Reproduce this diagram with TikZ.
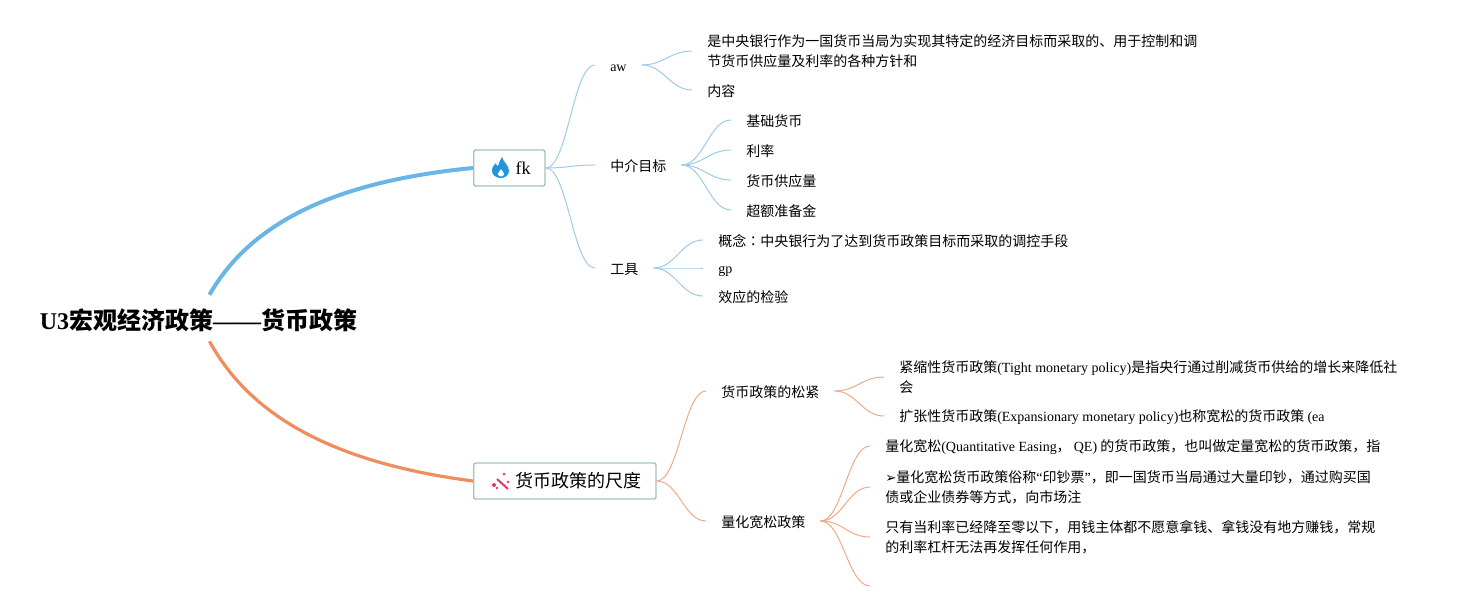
\documentclass[tikz,border=0pt]{standalone}
\usepackage{fontspec}
\setmainfont{Liberation Serif}
\newfontfamily\cjk{Noto Sans CJK SC}
\newfontfamily\cjktc{Noto Sans CJK TC}
\newfontfamily\dingfont{DejaVu Sans}
\newcommand{\lat}[1]{{\rmfamily #1}}
\definecolor{mapblue}{HTML}{68b5e6}
\definecolor{mapblueln}{HTML}{9ccbea}
\definecolor{maporange}{HTML}{f08d5f}
\definecolor{maporangeln}{HTML}{f2a988}
\definecolor{boxline}{HTML}{a3c4bc}
\definecolor{flameblue}{HTML}{2196d8}
\definecolor{wandpink}{HTML}{e8356f}
\tikzstyle{topic} = [draw=boxline, line width=1.1pt, fill=white, rounded corners=1.5pt,
    inner xsep=10.7pt, inner ysep=0pt, minimum height=27pt, anchor=west,
    font=\fontsize{13.5pt}{18pt}\selectfont\cjk]
\tikzstyle{para} = [anchor=west, align=left, inner xsep=11.25pt, inner ysep=0pt,
    font=\fontsize{10.5pt}{15pt}\selectfont\cjk]
\tikzstyle{leaf} = [para, execute at begin node={\rule[-1.5pt]{0pt}{12pt}}]
\tikzstyle{blueln} = [mapblueln, line width=0.75pt]
\tikzstyle{orangeln} = [maporangeln, line width=0.75pt]
\tikzset{fan/.style={to path={.. controls ([xshift=16.5pt]\tikztostart) and ([xshift=-16.5pt]\tikztotarget) .. (\tikztotarget)}}}
\begin{document}
\begin{tikzpicture}[x=0.75pt,y=-0.75pt]

	\useasboundingbox (0,0) rectangle (1459,611);

	% centre
	\node [inner xsep=0pt, inner ysep=0pt, minimum height=34.5pt,
		font=\fontsize{18pt}{22pt}\selectfont\bfseries\cjk,
		execute at begin node={\rule[-2pt]{0pt}{21pt}}] (root) at (198.5,318)
		{\lat{U3}宏观经济政策\lat{——}货币政策};

	% themes
	\node [topic] (fk) at (473,168) {\hspace*{20.8pt}\lat{fk}};
	\node [topic] (chidu) at (473,481) {\hspace*{20.8pt}货币政策的尺度};

	% branches fk
	\node [leaf] (aw) at (595,65) {\lat{aw}};
	\node [leaf] (zhongjie) at (595,165) {中介目标};
	\node [leaf] (gongju) at (595,268) {工具};

	\node [para] (aw1) at (692,51) {是中央银行作为一国货币当局为实现其特定的经济目标而采取的、用于控制和调\\节货币供应量及利率的各种方针和};
	\node [leaf] (aw2) at (692,90) {内容};

	\node [leaf] (zj1) at (731,120) {基础货币};
	\node [leaf] (zj2) at (731,150) {利率};
	\node [leaf] (zj3) at (731,180) {货币供应量};
	\node [leaf] (zj4) at (731,210) {超额准备金};

	\node [leaf] (gj1) at (703,240) {概念{\cjktc ：}中央银行为了达到货币政策目标而采取的调控手段};
	\node [leaf] (gj2) at (703,268) {\lat{gp}};
	\node [leaf] (gj3) at (703,296) {效应的检验};

	% branches chidu
	\node [leaf] (songjin) at (706,391) {货币政策的松紧};
	\node [leaf] (liang) at (706,521) {量化宽松政策};

	\node [para] (sj1) at (884,377) {紧缩性货币政策\lat{(Tight monetary policy)}是指央行通过削减货币供给的增长来降低社\\会};
	\node [leaf] (sj2) at (884,416) {扩张性货币政策\lat{(Expansionary monetary policy)}也称宽松的货币政策 \lat{(ea}};

	\node [leaf] (lh1) at (870,446) {量化宽松\lat{(Quantitative Easing}， \lat{QE)} 的货币政策，也叫做定量宽松的货币政策，指};
	\node [para] (lh2) at (870,487) {{\dingfont\fontsize{10pt}{15pt}\selectfont ➢}量化宽松货币政策俗称\lat{“}印钞票\lat{”}，即一国货币当局通过大量印钞，通过购买国\\债或企业债券等方式，向市场注};
	\node [para] (lh3) at (870,537) {只有当利率已经降至零以下，用钱主体都不愿意拿钱、拿钱没有地方赚钱，常规\\的利率杠杆无法再发挥任何作用，};
	\coordinate (lh4) at (870,586);

	% main curves
	\draw[mapblue, line width=3pt] ([xshift=8.25pt]root.north) .. controls (255,215) and (350,180) .. (fk.west);
	\draw[maporange, line width=2.4pt] ([xshift=8.25pt]root.south) .. controls (255,425) and (350,465) .. (chidu.west);

	% blue
	\draw[blueln] (fk.east) to[fan] (aw.west);
	\draw[blueln] (fk.east) to[fan] (zhongjie.west);
	\draw[blueln] (fk.east) to[fan] (gongju.west);

	\draw[blueln] (aw.east) to[fan] (aw1.west);
	\draw[blueln] (aw.east) to[fan] (aw2.west);

	\draw[blueln] (zhongjie.east) to[fan] (zj1.west);
	\draw[blueln] (zhongjie.east) to[fan] (zj2.west);
	\draw[blueln] (zhongjie.east) to[fan] (zj3.west);
	\draw[blueln] (zhongjie.east) to[fan] (zj4.west);

	\draw[blueln] (gongju.east) to[fan] (gj1.west);
	\draw[blueln] (gongju.east) to[fan] (gj2.west);
	\draw[blueln] (gongju.east) to[fan] (gj3.west);

	% orange
	\draw[orangeln] (chidu.east) to[fan] (songjin.west);
	\draw[orangeln] (chidu.east) to[fan] (liang.west);

	\draw[orangeln] (songjin.east) to[fan] (sj1.west);
	\draw[orangeln] (songjin.east) to[fan] (sj2.west);

	\draw[orangeln] (liang.east) to[fan] (lh1.west);
	\draw[orangeln] (liang.east) to[fan] (lh2.west);
	\draw[orangeln] (liang.east) to[fan] (lh3.west);
	\draw[orangeln] (liang.east) to[fan] (lh4);

	% flame
	\fill[flameblue, even odd rule] (502,157) .. controls (503,162) and (509,165) .. (509,171)
		.. controls (509,175) and (505,178) .. (501,178)
		.. controls (496,178) and (492,175) .. (492,171)
		.. controls (492,167) and (494,165) .. (496,163)
		.. controls (496,165) and (497,166) .. (498,166)
		.. controls (499,163) and (500,160) .. (502,157) -- cycle
		(501,169) .. controls (500,171) and (497,173) .. (498,175)
		.. controls (499,177) and (503,177) .. (504,175)
		.. controls (505,173) and (502,171) .. (501,169) -- cycle;

	% wand
	\draw[wandpink, line width=1.5pt] (497,479) -- (508,489);
	\fill[wandpink] (494,485) circle (2) (504,474) circle (1.5) (508,482) circle (1.3)
		(497,488) circle (1.3);
\end{tikzpicture}
\end{document}
